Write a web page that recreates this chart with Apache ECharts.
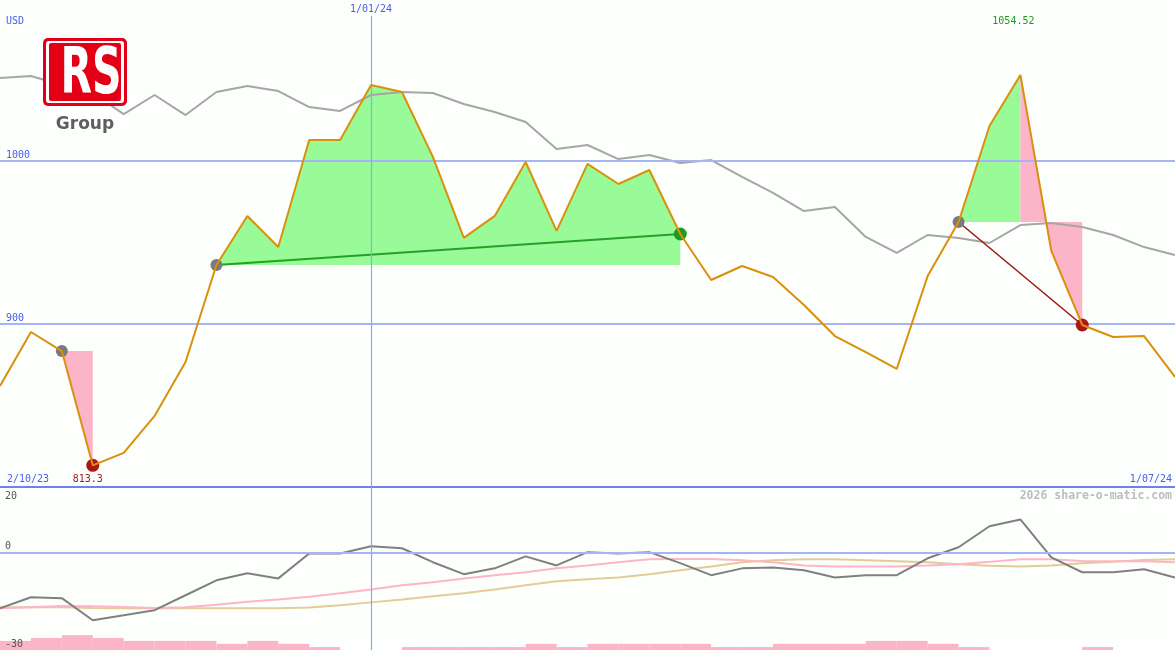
<!DOCTYPE html>
<html>
<head>
<meta charset="utf-8">
<script src="https://cdn.jsdelivr.net/npm/echarts@6/dist/echarts.min.js"></script>
<style>
html,body{margin:0;padding:0;background:#fcfffc;}
#c{width:1175px;height:650px;}
</style>
</head>
<body>
<div id="c"></div>
<script>
// ---- data (weekly, index 0..38) ----
const price = [862.0, 895.1, 883.4, 813.3, 820.9, 843.6, 876.7, 936.2, 966.3, 947.2,
  1012.9, 1012.9, 1046.6, 1042.3, 1002.5, 952.8, 966.3, 999.4, 957.1, 998.2,
  985.9, 994.5, 955.2, 927.0, 935.6, 928.8, 911.7, 892.6, 882.8, 872.4,
  929.4, 962.6, 1021.5, 1052.8, 944.8, 899.4, 892.0, 892.6, 867.5];
const average = [1050.9, 1052.1, 1046.6, 1041.7, 1028.8, 1040.5, 1028.2, 1042.3, 1046.0, 1042.9,
  1033.1, 1030.7, 1040.5, 1042.3, 1041.7, 1035.0, 1030.1, 1023.9, 1007.4, 1009.8,
  1001.2, 1003.7, 998.8, 1000.6, 990.2, 980.4, 969.3, 971.8, 953.4, 943.6,
  954.6, 952.8, 949.7, 960.7, 962.0, 959.5, 954.6, 947.2, 942.3];
const momentum = [-17.1, -13.7, -14.0, -20.8, -19.3, -17.7, -13.1, -8.5, -6.3, -7.9,
  -0.2, -0.2, 2.0, 1.4, -2.9, -6.6, -4.8, -1.1, -3.9, 0.2,
  -0.2, 0.2, -3.2, -6.9, -4.8, -4.5, -5.4, -7.6, -6.9, -6.9,
  -1.7, 1.7, 8.2, 10.3, -1.4, -6.0, -6.0, -5.1, -7.6];
const maPink = [-17.1, -16.8, -16.4, -16.5, -16.7, -17.0, -16.8, -16.0, -15.1, -14.4,
  -13.6, -12.5, -11.3, -10.0, -9.1, -7.9, -6.9, -6.0, -4.8, -3.9,
  -2.9, -2.0, -1.9, -1.9, -2.3, -2.9, -3.9, -4.2, -4.2, -4.2,
  -3.9, -3.5, -2.8, -2.0, -2.0, -2.5, -2.6, -2.6, -2.9];
const maTan = [-16.8, -16.8, -16.8, -17.0, -17.1, -17.1, -17.1, -17.1, -17.1, -17.1,
  -16.9, -16.2, -15.3, -14.4, -13.4, -12.5, -11.3, -10.0, -8.8, -8.2,
  -7.6, -6.6, -5.4, -4.2, -2.9, -2.3, -2.0, -2.0, -2.3, -2.6,
  -2.9, -3.5, -4.0, -4.2, -3.9, -3.2, -2.8, -2.2, -2.0];
// bar heights per weekly interval (lower panel units above its floor)
const volume = [2.8, 3.7, 4.6, 3.7, 2.8, 2.8, 2.8, 1.9, 2.8, 1.9,
  0.9, 0, 0, 0.9, 0.9, 0.9, 0.9, 1.9, 0.9, 1.9,
  1.9, 1.9, 1.9, 0.9, 0.9, 1.9, 1.9, 1.9, 2.8, 2.8,
  1.9, 0.9, 0, 0, 0, 0.9, 0, 0];
const priceTicks = [900, 1000];
const lowerTicks = [20, 0, -30];
const startLabel = '2/10/23';
const endLabel = '1/07/24';
const midDateIndex = 12;
const midDateLabel = '1/01/24';
const highIndex = 33, highLabel = '1054.52';
const lowIndex = 3, lowLabel = '813.3';
const grayMarks = [2, 7, 31];
const redMarks = [3, 35];
const greenMarks = [22];
const fills = [
  {from: 2, to: 3, base: 2, color: '#fbb4c8'},
  {from: 7, to: 22, base: 7, color: '#98fb98'},
  {from: 31, to: 33, base: 31, color: '#98fb98'},
  {from: 33, to: 35, base: 31, color: '#fbb4c8'}
];
const trends = [
  {from: 7, to: 22, color: '#26a026', width: 2},
  {from: 31, to: 35, color: '#9c1414', width: 1.5}
];
const lowerMin = -30, lowerMax = 20;
const lastIndex = price.length - 1;

const pairs = a => a.map((v, i) => [i, v]);
const chart = echarts.init(document.getElementById('c'), null, {width: 1175, height: 650});

const markers = [];
grayMarks.forEach(i => markers.push({value: [i, price[i]], itemStyle: {color: '#7a7a7a', opacity: 1}, symbolSize: 12}));
redMarks.forEach(i => markers.push({value: [i, price[i]], itemStyle: {color: '#a81818', opacity: 1}, symbolSize: 13}));
greenMarks.forEach(i => markers.push({value: [i, price[i]], itemStyle: {color: '#1f9a1f', opacity: 1}, symbolSize: 13}));

const option = {
  animation: false,
  backgroundColor: '#fcfffc',
  grid: [
    {left: 0, right: 0, top: 16, height: 471},
    {left: 0, right: 0, top: 488, height: 162}
  ],
  xAxis: [
    {type: 'value', gridIndex: 0, min: 0, max: lastIndex,
      axisLine: {show: true, onZero: false, lineStyle: {color: '#6f80f0', width: 2}},
      axisTick: {show: false}, axisLabel: {show: false}, splitLine: {show: false}},
    {type: 'value', gridIndex: 1, min: 0, max: lastIndex, show: false, splitLine: {show: false}}
  ],
  yAxis: [
    {type: 'value', gridIndex: 0, min: 800, max: 1088.96, show: false, splitLine: {show: false}},
    {type: 'value', gridIndex: 1, min: lowerMin, max: lowerMax, show: false, splitLine: {show: false}}
  ],
  series: [
    { // guide lines main
      type: 'line', xAxisIndex: 0, yAxisIndex: 0, z: 1, silent: true,
      data: pairs(price), showSymbol: false, lineStyle: {opacity: 0},
      markLine: {silent: true, symbol: ['none', 'none'], label: {show: false},
        lineStyle: {color: '#a4b4f4', width: 2, type: 'solid'},
        data: priceTicks.map(v => ({yAxis: v})).concat([{xAxis: midDateIndex, lineStyle: {width: 1.2, color: '#90a4ff', type: 'solid'}}])}
    },
    { // fills
      type: 'custom', xAxisIndex: 0, yAxisIndex: 0, z: 2, silent: true,
      data: fills.map((f, k) => [f.from, price[f.base], k]),
      renderItem: function (params, api) {
        const f = fills[params.dataIndex];
        const pts = [];
        for (let i = f.from; i <= f.to; i++) pts.push(api.coord([i, price[i]]));
        pts.push(api.coord([f.to, price[f.base]]));
        pts.push(api.coord([f.from, price[f.base]]));
        return {type: 'polygon', shape: {points: pts}, style: {fill: f.color}};
      }
    },
    { // average
      type: 'line', xAxisIndex: 0, yAxisIndex: 0, z: 3, data: pairs(average),
      showSymbol: false, lineStyle: {color: '#a6a6a6', width: 2}
    }
  ].concat(trends.map(t => ({
      type: 'line', xAxisIndex: 0, yAxisIndex: 0, z: 4, showSymbol: false,
      data: [[t.from, price[t.from]], [t.to, price[t.to]]],
      lineStyle: {color: t.color, width: t.width}
    }))).concat([
    {
      type: 'scatter', xAxisIndex: 0, yAxisIndex: 0, z: 5, symbol: 'circle', data: markers,
      itemStyle: {opacity: 1}
    },
    { // price
      type: 'line', xAxisIndex: 0, yAxisIndex: 0, z: 6, data: pairs(price),
      showSymbol: false, lineStyle: {color: '#da900a', width: 2}
    },
    { // guide lines lower
      type: 'line', xAxisIndex: 1, yAxisIndex: 1, z: 1, silent: true,
      data: pairs(momentum), showSymbol: false, lineStyle: {opacity: 0},
      markLine: {silent: true, symbol: ['none', 'none'], label: {show: false},
        lineStyle: {color: '#a4b4f4', width: 2, type: 'solid'},
        data: [{yAxis: 0}, {xAxis: midDateIndex, lineStyle: {width: 1.2, color: '#90a4ff', type: 'solid'}}]}
    },
    { // bars
      type: 'custom', xAxisIndex: 1, yAxisIndex: 1, z: 2, silent: true,
      data: pairs(volume),
      renderItem: function (params, api) {
        const i = api.value(0), v = api.value(1);
        if (!v) return null;
        const p1 = api.coord([i, lowerMin + v]);
        const p0 = api.coord([i + 1, lowerMin]);
        return {type: 'rect', shape: {x: p1[0], y: p1[1], width: p0[0] - p1[0], height: p0[1] - p1[1]},
          style: {fill: '#fbb4c8'}};
      }
    },
    {
      type: 'line', xAxisIndex: 1, yAxisIndex: 1, z: 3, data: pairs(maTan),
      showSymbol: false, lineStyle: {color: '#e2cc98', width: 2}
    },
    {
      type: 'line', xAxisIndex: 1, yAxisIndex: 1, z: 3, data: pairs(maPink),
      showSymbol: false, lineStyle: {color: '#ffb4c8', width: 2}
    },
    {
      type: 'line', xAxisIndex: 1, yAxisIndex: 1, z: 4, data: pairs(momentum),
      showSymbol: false, lineStyle: {color: '#808080', width: 2}
    }
  ])
};
chart.setOption(option);

const P = (g, x, y) => chart.convertToPixel({xAxisIndex: g, yAxisIndex: g}, [x, y]);
const mono = '10px "DejaVu Sans Mono", monospace';
const blue = '#4a5cf0';
const els = [];
function txt(x, y, text, fill, align, font) {
  els.push({type: 'text', x: x, y: y, z: 100, silent: true,
    style: {text: text, fill: fill, font: font || mono, align: align, textAlign: align,
      verticalAlign: 'middle', textVerticalAlign: 'middle'}});
}
const bottom0 = P(0, 0, 800)[1];
txt(6, 21, 'USD', blue, 'left');
txt(P(0, midDateIndex, 900)[0], 9, midDateLabel, blue, 'center');
priceTicks.forEach(v => txt(6, P(0, 0, v)[1] - 5.5, String(v), blue, 'left'));
txt(7, bottom0 - 8, startLabel, blue, 'left');
txt(1172, bottom0 - 8, endLabel, blue, 'right');
txt(P(0, highIndex, 900)[0] - 7, 21, highLabel, '#1f9a1f', 'center');
txt(P(0, lowIndex, 900)[0] - 5, bottom0 - 8, lowLabel, '#a01c1c', 'center');
lowerTicks.forEach(v => {
  const y = P(1, 0, v)[1];
  txt(5, v === lowerMax ? y + 8 : y - 6, String(v), '#555555', 'left');
});
txt(1172, 496, '2026 share-o-matic.com', '#bdbdbd', 'right', 'bold 11.5px "DejaVu Sans Mono", monospace');

// logo
els.push({type: 'rect', z: 90, silent: true, shape: {x: 43, y: 38, width: 84, height: 68, r: 5}, style: {fill: '#e30016'}});
els.push({type: 'rect', z: 91, silent: true, shape: {x: 46, y: 41, width: 78, height: 62, r: 3}, style: {fill: '#ffffff'}});
els.push({type: 'rect', z: 92, silent: true, shape: {x: 49, y: 43, width: 72, height: 58, r: 2}, style: {fill: '#e30016'}});
els.push({type: 'text', z: 93, silent: true, x: 91, y: 77, scaleX: 0.66, scaleY: 1.02,
  style: {text: 'RS', fill: '#ffffff', font: 'bold 62px "DejaVu Sans", sans-serif',
    align: 'center', textAlign: 'center', verticalAlign: 'middle', textVerticalAlign: 'middle'}});
els.push({type: 'text', z: 93, silent: true, x: 85, y: 125,
  style: {text: 'Group', fill: '#5f5f5f', font: 'bold 17px "DejaVu Sans", sans-serif',
    align: 'center', textAlign: 'center', verticalAlign: 'middle', textVerticalAlign: 'middle'}});

chart.setOption({graphic: {elements: els}});
</script>
</body>
</html>
